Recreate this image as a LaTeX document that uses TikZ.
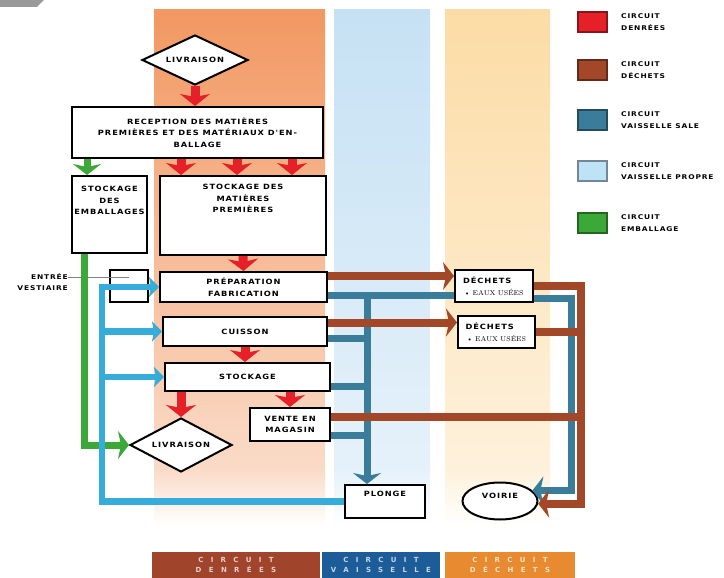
\documentclass[tikz,border=0pt]{standalone}
\usepackage{fontspec}
\newfontfamily\boxfont[LetterSpace=13,FakeStretch=1.15]{DejaVu Sans}
\newfontfamily\bandfont[LetterSpace=105]{DejaVu Sans}
\usetikzlibrary{arrows.meta,calc,shapes.geometric}
\definecolor{DenreeClr}{RGB}{230,32,40}
\definecolor{DechetClr}{RGB}{162,72,40}
\definecolor{SaleClr}{RGB}{58,125,155}
\definecolor{PropreClr}{RGB}{54,172,218}
\definecolor{EmballageClr}{RGB}{60,168,56}
\definecolor{LegPropre}{RGB}{190,226,246}
\definecolor{BandOrange}{RGB}{242,152,98}
\definecolor{BandBlue}{RGB}{198,225,244}
\definecolor{BandYellow}{RGB}{252,220,166}
\definecolor{LabelBrown}{RGB}{160,68,44}
\definecolor{LabelBlue}{RGB}{28,92,152}
\definecolor{LabelOrange}{RGB}{232,138,48}

\begin{document}
\begin{tikzpicture}[x=1pt,y=-1pt,
  box/.style={draw,line width=2pt,fill=white,inner sep=0pt,align=center,
    font=\boxfont\bfseries\fontsize{7.2}{11.5}\selectfont},
  losange/.style={box,diamond,aspect=2},
  lbl/.style={inner sep=0pt,align=center,font=\boxfont\bfseries\fontsize{7.2}{11.5}\selectfont},
  legbox/.style={line width=1.2pt,inner sep=0pt,minimum width=29pt,minimum height=20pt},
  legtxt/.style={inner sep=0pt,align=left,font=\boxfont\bfseries\fontsize{6.5}{11.5}\selectfont},
  band/.style={inner sep=0pt,minimum height=26pt,align=center,
    font=\bandfont\bfseries\fontsize{7}{10.5}\selectfont},
  denree/.style={DenreeClr,line width=9pt,-{Stealth[length=12pt,width=30pt,inset=3pt]}},
  emballage/.style={EmballageClr,line width=7pt},
  propre/.style={PropreClr,line width=6.5pt},
  sale/.style={SaleClr,line width=7pt},
  dechet/.style={DechetClr,line width=8pt},
  fleche/.style={-{Stealth[length=11pt,width=28pt,inset=3pt]}},
  petite/.style={-{Stealth[length=10pt,width=20pt,inset=2pt]}}]

\useasboundingbox (0,0) rectangle (724,578);
\fill[white] (0,0) rectangle (724,578);
\fill[gray!80] (0,0) -- (44,0) -- (37,7) -- (0,7) -- cycle;

\shade[top color=BandOrange,bottom color=BandOrange!35] (154,10) rectangle (325,470);
\shade[top color=BandOrange!35,bottom color=white] (154,470) rectangle (325,525);
\shade[top color=BandBlue,bottom color=BandBlue!45] (334,10) rectangle (430,470);
\shade[top color=BandBlue!45,bottom color=white] (334,470) rectangle (430,525);
\shade[top color=BandYellow,bottom color=BandYellow!40] (445,10) rectangle (550,470);
\shade[top color=BandYellow!40,bottom color=white] (445,470) rectangle (550,525);

\node[losange,minimum width=106pt,minimum height=50pt] (livHaut) at (195,60) {LIVRAISON};
\node[box,minimum width=251pt,minimum height=51pt] (reception) at (197.5,132.5)
  {RECEPTION DES MATIÈRES\\PREMIÈRES ET DES MATÉRIAUX D'EN-\\BALLAGE};
\node[box,minimum width=75pt,minimum height=77pt,
  label={[lbl,anchor=north,yshift=-11pt]north:STOCKAGE\\DES\\EMBALLAGES}] (stockEmb) at (109.5,214.5) {};
\node[box,minimum width=166pt,minimum height=79pt,
  label={[lbl,anchor=north,yshift=-9pt]north:STOCKAGE DES\\MATIÈRES\\PREMIÈRES}] (stockMat) at (243,215.5) {};
\node[box,minimum width=38pt,minimum height=32pt] (vest) at (129,286) {};
\node[lbl,anchor=east,align=right,font=\boxfont\bfseries\fontsize{6.5}{11.5}\selectfont] (entree) at (68,282) {ENTRÉE\\VESTIAIRE};
\node[box,minimum width=167pt,minimum height=30pt] (prep) at (243.5,287) {PRÉPARATION\\FABRICATION};
\node[box,minimum width=164pt,minimum height=29pt] (cuisson) at (245,331.5) {CUISSON};
\node[box,minimum width=165pt,minimum height=28pt] (stockage) at (247.5,377) {STOCKAGE};
\node[box,minimum width=80pt,minimum height=33pt] (vente) at (290,424.5) {VENTE EN\\MAGASIN};
\node[losange,minimum width=102pt,minimum height=54pt] (livBas) at (181,445) {LIVRAISON};
\node[box,minimum width=78pt,minimum height=32pt,text width=62pt,align=left] (dech1) at (494,286)
  {DÉCHETS\\{\rmfamily\mdseries\fontsize{7}{8}\selectfont\,\textbullet\ EAUX USÉES}};
\node[box,minimum width=77pt,minimum height=32pt,text width=62pt,align=left] (dech2) at (496.5,332)
  {DÉCHETS\\{\rmfamily\mdseries\fontsize{7}{8}\selectfont\,\textbullet\ EAUX USÉES}};
\node[box,minimum width=80pt,minimum height=33pt,
  label={[lbl,anchor=north,yshift=-7pt]north:PLONGE}] (plonge) at (385,501.5) {};
\node[box,ellipse,minimum width=75pt,minimum height=37pt,
  label={[lbl,yshift=5pt]center:VOIRIE}] (voirie) at (500,501) {};

\draw[gray,line width=.6pt] ([yshift=5pt]entree.east) -- ([yshift=5pt]entree.east -| vest.center);

\draw[denree] (livHaut.south) -- (livHaut.south |- reception.north);
\foreach \xx in {181,237,292}
  \draw[denree] (reception.south -| \xx,0) -- (stockMat.north -| \xx,0);
\draw[denree] (stockMat.south) -- (prep.north);
\draw[denree] (cuisson.south) -- (cuisson.south |- stockage.north);
\draw[denree] (stockage.south -| livBas.north) -- (livBas.north);
\draw[denree] (stockage.south -| vente.north) -- (vente.north);

\draw[emballage,fleche] ([xshift=16pt]reception.south west) -- ([xshift=16pt]reception.south west |- stockEmb.north);
\draw[emballage,fleche] ([xshift=13pt]stockEmb.south west) |- (livBas.west);

\coordinate (propreCol) at ([xshift=-57pt]prep.west);
\draw[propre,petite] (plonge.west) -| (propreCol) -- (prep.west);
\draw[propre,petite] (propreCol |- cuisson.west) -- (cuisson.west);
\draw[propre,petite] (propreCol |- stockage.west) -- (stockage.west);

\coordinate (saleCol) at ([xshift=-18pt]plonge.north);
\draw[sale] ([yshift=-8pt]prep.east) -- ([yshift=-8pt]prep.east -| dech1.west);
\draw[sale,fleche] ([yshift=-8pt]prep.east -| saleCol) -- (saleCol);
\draw[sale] ([yshift=-7pt]cuisson.east) -- ([yshift=-7pt]cuisson.east -| saleCol);
\draw[sale] ([yshift=-9pt]stockage.east) -- ([yshift=-9pt]stockage.east -| saleCol);
\draw[sale] ([yshift=-11pt]vente.east) -- ([yshift=-11pt]vente.east -| saleCol);
\draw[sale,fleche] ([yshift=-12pt]dech1.east) -| ([xshift=39pt]voirie.18) -- (voirie.18);

\coordinate (dechetCol) at ([xshift=43pt]voirie.-4);
\draw[dechet,fleche] ([yshift=11pt]prep.east) -- ([yshift=11pt]prep.east -| dech1.west);
\draw[dechet,fleche] ([yshift=9pt]cuisson.east) -- ([yshift=9pt]cuisson.east -| dech2.west);
\draw[dechet] (dech2.east) -- (dech2.east -| dechetCol);
\draw[dechet] ([yshift=8pt]vente.east) -- ([yshift=8pt]vente.east -| dechetCol);
\draw[dechet,fleche] (dech1.east) -| (dechetCol) -- (voirie.-4);

\foreach \clr/\txt/\yy [count=\i] in {DenreeClr/DENRÉES/22,DechetClr/DÉCHETS/70,
    SaleClr/VAISSELLE SALE/120,LegPropre/VAISSELLE PROPRE/171,EmballageClr/EMBALLAGE/223}{
  \node[legbox,fill=\clr,draw=\clr!60!black] (legBox\i) at (592.5,\yy) {};
  \node[legtxt,anchor=west] (legTxt\i) at (621,\yy) {CIRCUIT\\\txt};
}

\node[band,fill=LabelBrown,text=LabelBrown!25!white,minimum width=168pt] (bandDenree) at (236,565) {CIRCUIT\\DENRÉES};
\node[band,fill=LabelBlue,text=LabelBlue!25!white,minimum width=118pt] (bandVaisselle) at (381,565) {CIRCUIT\\VAISSELLE};
\node[band,fill=LabelOrange,text=LabelOrange!25!white,minimum width=130pt] (bandDechet) at (510,565) {CIRCUIT\\DÉCHETS};

\end{tikzpicture}
\end{document}
